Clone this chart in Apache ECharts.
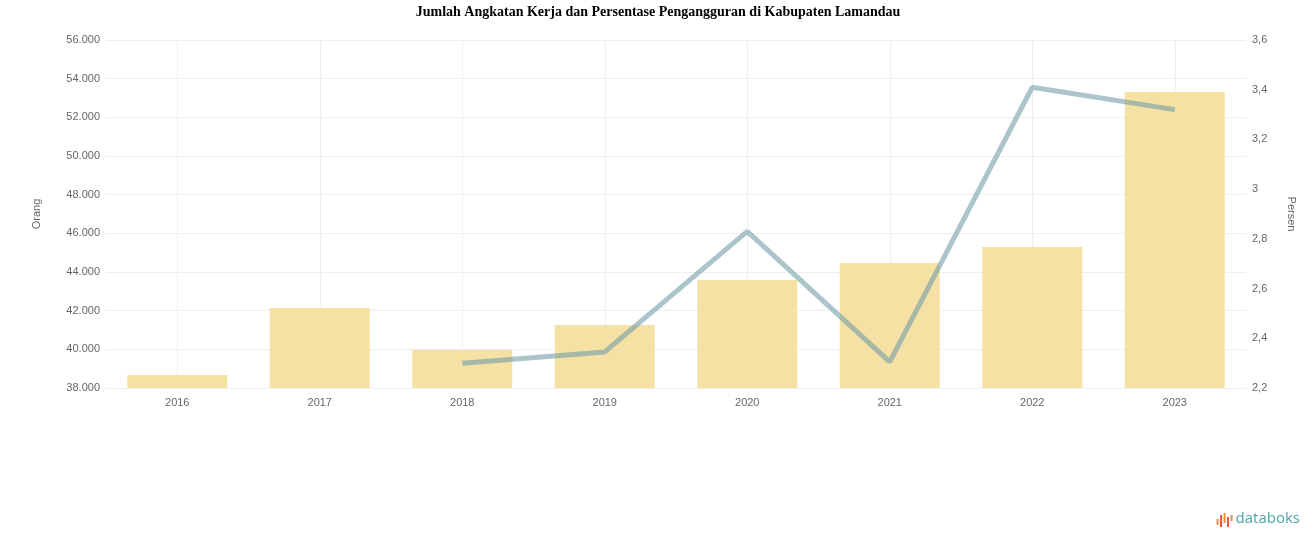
<!DOCTYPE html>
<html>
<head>
<meta charset="utf-8">
<script src="https://cdn.jsdelivr.net/npm/echarts@6/dist/echarts.min.js"></script>
<style>html,body{margin:0;padding:0;background:#fff;}#c{width:1316px;height:547px;}</style>
</head>
<body>
<div id="c"></div>
<script>
const categories = ['2016','2017','2018','2019','2020','2021','2022','2023'];
const angkatanKerja = [38670, 42140, 39970, 41260, 43590, 44470, 45290, 53310];
const pengangguran = [null, null, 2.30, 2.345, 2.83, 2.305, 3.41, 3.32];
const leftTicks = {min: 38000, max: 56000, interval: 2000};
const rightTicks = {min: 2.2, max: 3.6, interval: 0.2};

const chart = echarts.init(document.getElementById('c'));
const fmtThousand = v => String(Math.round(v)).replace(/\B(?=(\d{3})+(?!\d))/g, '.');
const fmtDec = v => (Math.round(v * 10) / 10).toString().replace('.', ',');

chart.setOption({
  animation: false,
  title: {
    text: 'Jumlah Angkatan Kerja dan Persentase Pengangguran di Kabupaten Lamandau',
    left: 'center', top: 0,
    textStyle: {fontFamily: 'Liberation Serif', fontWeight: 'bold', fontSize: 14, color: '#000'}
  },
  grid: {left: 106, right: 70, top: 40, bottom: 159},
  xAxis: {
    type: 'category', data: categories,
    axisLine: {show: false}, axisTick: {show: false},
    axisLabel: {color: '#666', fontSize: 11, margin: 9, fontFamily: 'Liberation Sans'},
    splitLine: {show: true, alignWithLabel: true, lineStyle: {color: '#efefef'}}
  },
  yAxis: [{
    type: 'value', min: leftTicks.min, max: leftTicks.max, interval: leftTicks.interval,
    name: 'Orang', nameLocation: 'middle', nameGap: 64, nameRotate: 90,
    nameTextStyle: {color: '#666', fontSize: 11, fontFamily: 'Liberation Sans'},
    axisLine: {show: false}, axisTick: {show: false},
    axisLabel: {color: '#666', fontSize: 11, margin: 6, formatter: fmtThousand, fontFamily: 'Liberation Sans'},
    splitLine: {lineStyle: {color: '#efefef'}}
  }, {
    type: 'value', min: rightTicks.min, max: rightTicks.max, interval: rightTicks.interval,
    name: 'Persen', nameLocation: 'middle', nameGap: 40, nameRotate: -90,
    nameTextStyle: {color: '#666', fontSize: 11, fontFamily: 'Liberation Sans'},
    axisLine: {show: false}, axisTick: {show: false},
    axisLabel: {color: '#666', fontSize: 11, margin: 6, formatter: fmtDec, fontFamily: 'Liberation Sans'},
    splitLine: {show: false}
  }],
  series: [{
    name: 'Angkatan Kerja', type: 'bar', data: angkatanKerja, yAxisIndex: 0,
    barWidth: 100,
    itemStyle: {color: '#f6e1a4'}
  }, {
    name: 'Pengangguran', type: 'line', data: pengangguran, yAxisIndex: 1,
    symbol: 'none', connectNulls: false,
    lineStyle: {color: 'rgb(115,158,168)', width: 5, opacity: 0.6}
  }],
  graphic: [
    {type: 'group', right: 16, bottom: 20, children: [
      {type: 'rect', shape: {x: 0, y: 6, width: 2, height: 6}, style: {fill: '#f08a3c'}},
      {type: 'rect', shape: {x: 3.5, y: 2, width: 2, height: 12}, style: {fill: '#e8503a'}},
      {type: 'rect', shape: {x: 7, y: 0, width: 2, height: 10}, style: {fill: '#f08a3c'}},
      {type: 'rect', shape: {x: 10.5, y: 4, width: 2, height: 10}, style: {fill: '#e8503a'}},
      {type: 'rect', shape: {x: 14, y: 2, width: 2, height: 6}, style: {fill: '#f08a3c'}},
      {type: 'text', x: 19, y: -2, style: {text: 'databoks', fill: '#4aa6a6', font: '15px "Open Sans", sans-serif'}}
    ]}
  ]
});
</script>
</body>
</html>
